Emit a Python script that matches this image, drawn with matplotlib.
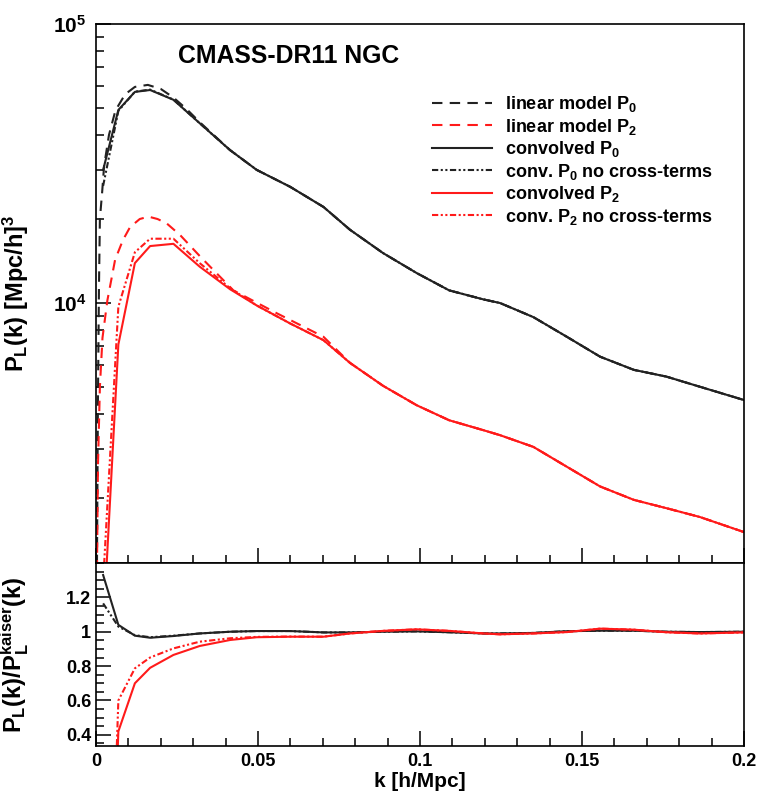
import matplotlib
matplotlib.use("Agg")
import matplotlib.pyplot as plt
from matplotlib.ticker import LogLocator, MultipleLocator, NullFormatter, FixedLocator, FuncFormatter

plt.rcParams['font.family'] = ['Liberation Sans', 'DejaVu Sans']
plt.rcParams['font.weight'] = 'bold'
plt.rcParams['mathtext.fontset'] = 'custom'
plt.rcParams['mathtext.rm'] = 'Liberation Sans:bold'
plt.rcParams['mathtext.it'] = 'Liberation Sans:bold'
plt.rcParams['mathtext.bf'] = 'Liberation Sans:bold'
plt.rcParams['mathtext.sf'] = 'Liberation Sans:bold'
plt.rcParams['mathtext.default'] = 'rm'

# ---------------- data ----------------
# convolved models sampling
k_conv = [0.0022, 0.0069, 0.012, 0.0167, 0.0239, 0.032, 0.0414, 0.0496, 0.0599,
          0.0702, 0.0784, 0.0886, 0.099, 0.109, 0.1196, 0.1247, 0.135, 0.1453,
          0.1556, 0.166, 0.176, 0.1864, 0.2]
P0_conv = [3.0e4, 4.92e4, 5.71e4, 5.8e4, 5.35e4, 4.41e4, 3.53e4, 3.0e4, 2.61e4,
           2.21e4, 1.83e4, 1.51e4, 1.28e4, 1.11e4, 1.03e4, 1.0e4, 8.9e3, 7.57e3,
           6.42e3, 5.76e3, 5.45e3, 5.01e3, 4.49e3]
P0_nocross = [2.63e4, 4.88e4, 5.72e4, 5.82e4, 5.36e4, 4.41e4, 3.53e4, 3.0e4, 2.61e4,
              2.21e4, 1.83e4, 1.51e4, 1.28e4, 1.11e4, 1.03e4, 1.0e4, 8.9e3, 7.57e3,
              6.42e3, 5.76e3, 5.45e3, 5.01e3, 4.49e3]
P2_conv = [670, 7.1e3, 1.39e4, 1.6e4, 1.63e4, 1.35e4, 1.12e4, 9.8e3, 8.45e3,
           7.36e3, 6.1e3, 5.05e3, 4.3e3, 3.8e3, 3.5e3, 3.36e3, 3.05e3, 2.59e3,
           2.2e3, 1.97e3, 1.84e3, 1.71e3, 1.51e3]
P2_nocross = [1.0e3, 9.7e3, 1.52e4, 1.7e4, 1.7e4, 1.39e4, 1.13e4, 9.8e3, 8.45e3,
              7.36e3, 6.1e3, 5.05e3, 4.3e3, 3.8e3, 3.5e3, 3.36e3, 3.05e3, 2.59e3,
              2.2e3, 1.97e3, 1.84e3, 1.71e3, 1.51e3]

# linear (Kaiser) models
k_lin0 = [0.0003, 0.0006, 0.0009, 0.0012, 0.0019, 0.0025, 0.004, 0.006, 0.009,
          0.012, 0.016, 0.02, 0.0239, 0.028, 0.032, 0.0414, 0.0496, 0.0599,
          0.0702, 0.0784, 0.0886, 0.099, 0.109, 0.1196, 0.1247, 0.135, 0.1453,
          0.1556, 0.166, 0.176, 0.1864, 0.2]
P0_lin = [1.15e3, 4.5e3, 1.1e4, 2.0e4, 2.5e4, 3.1e4, 4.0e4, 4.9e4, 5.6e4,
          5.95e4, 6.05e4, 5.85e4, 5.45e4, 4.95e4, 4.45e4, 3.53e4, 3.0e4, 2.61e4,
          2.21e4, 1.83e4, 1.51e4, 1.28e4, 1.11e4, 1.03e4, 1.0e4, 8.9e3, 7.57e3,
          6.42e3, 5.76e3, 5.45e3, 5.01e3, 4.49e3]
k_lin2 = [0.0003, 0.0006, 0.0012, 0.002, 0.0035, 0.0059, 0.0083, 0.0105, 0.0135,
          0.0162, 0.019, 0.0218, 0.026, 0.0321, 0.0424, 0.0558, 0.0702, 0.0784,
          0.0886, 0.099, 0.109, 0.1196, 0.1247, 0.135, 0.1453, 0.1556, 0.166,
          0.176, 0.1864, 0.2]
P2_lin = [1.1e3, 2.6e3, 5.0e3, 7.5e3, 1.02e4, 1.43e4, 1.68e4, 1.87e4, 2.0e4,
          2.04e4, 2.0e4, 1.93e4, 1.75e4, 1.47e4, 1.11e4, 9.19e3, 7.57e3, 6.1e3,
          5.05e3, 4.3e3, 3.8e3, 3.5e3, 3.36e3, 3.05e3, 2.59e3, 2.2e3, 1.97e3,
          1.84e3, 1.71e3, 1.51e3]

# ratios to the Kaiser model
R0_conv = [1.33, 1.04, 0.977, 0.965, 0.975, 0.99, 1.0, 1.004, 1.004, 0.996, 0.996,
           1.0, 1.002, 0.997, 0.99, 0.99, 0.993, 1.003, 1.006, 1.006, 1.0, 0.998, 1.0]
R0_nocross = [1.165, 1.03, 0.98, 0.968, 0.977, 0.99, 1.0, 1.004, 1.004, 0.996, 0.996,
              1.0, 1.002, 0.997, 0.99, 0.99, 0.993, 1.003, 1.006, 1.006, 1.0, 0.998, 1.0]
R2_conv = [-2.0, 0.42, 0.70, 0.79, 0.865, 0.917, 0.952, 0.968, 0.971, 0.971, 0.99,
           1.005, 1.014, 1.005, 0.99, 0.985, 0.99, 0.998, 1.018, 1.012, 0.997, 0.99, 0.996]
R2_nocross = [-2.0, 0.6, 0.787, 0.85, 0.903, 0.942, 0.962, 0.97, 0.972, 0.971, 0.99,
              1.005, 1.014, 1.005, 0.99, 0.985, 0.99, 0.998, 1.018, 1.012, 0.997, 0.99, 0.996]

labels = [r'linear model $P_0$', r'linear model $P_2$', r'convolved $P_0$',
          r'conv. $P_0$ no cross-terms', r'convolved $P_2$', r'conv. $P_2$ no cross-terms']
title = 'CMASS-DR11 NGC'

# ---------------- styles ----------------
BLACK = '#222222'
RED = '#ff1a1a'
dashed = (0, (5, 3.5))
dotted = (0, (3, 1.2, 1, 1.2, 1, 1.2))
LW = 1.5

fig = plt.figure(figsize=(7.63, 7.98), dpi=100)
W, H = 763, 798
x0, x1 = 96, 744
ax = fig.add_axes([x0 / W, 1 - 563 / H, (x1 - x0) / W, (563 - 24) / H])
axr = fig.add_axes([x0 / W, 1 - 746 / H, (x1 - x0) / W, (746 - 563) / H], sharex=ax)

h1, = ax.plot(k_lin0, P0_lin, color=BLACK, lw=LW, ls=dashed)
h2, = ax.plot(k_lin2, P2_lin, color=RED, lw=LW, ls=dashed)
h3, = ax.plot(k_conv, P0_conv, color=BLACK, lw=LW)
h4, = ax.plot(k_conv, P0_nocross, color=BLACK, lw=LW, ls=dotted)
h5, = ax.plot(k_conv, P2_conv, color=RED, lw=LW)
h6, = ax.plot(k_conv, P2_nocross, color=RED, lw=LW, ls=dotted)

axr.plot(k_conv, R0_conv, color=BLACK, lw=LW)
axr.plot(k_conv, R0_nocross, color=BLACK, lw=LW, ls=dotted)
axr.plot(k_conv, R2_conv, color=RED, lw=LW)
axr.plot(k_conv, R2_nocross, color=RED, lw=LW, ls=dotted)

ax.set_yscale('log')
ax.set_xlim(0, 0.2)
ax.set_ylim(1170, 1e5)
axr.set_ylim(0.335, 1.40)

for a in (ax, axr):
    for s in a.spines.values():
        s.set_linewidth(1.2)
    a.tick_params(which='both', direction='in', top=False, right=False, width=1.1,
                  labelsize=13)
    a.tick_params(which='major', length=11)
    a.tick_params(which='minor', length=6)

ax.yaxis.set_major_locator(LogLocator(base=10, numticks=10))
ax.yaxis.set_minor_locator(LogLocator(base=10, subs=range(2, 10), numticks=20))
ax.yaxis.set_minor_formatter(NullFormatter())
ax.tick_params(axis='y', which='major', pad=7, labelsize=15)
ax.tick_params(axis='x', labelbottom=False)
axr.xaxis.set_major_locator(FixedLocator([0.0, 0.05, 0.1, 0.15, 0.2]))
axr.xaxis.set_minor_locator(MultipleLocator(0.01))
axr.yaxis.set_major_locator(FixedLocator([0.4, 0.6, 0.8, 1.0, 1.2]))
axr.yaxis.set_minor_locator(MultipleLocator(0.05))
fmt = FuncFormatter(lambda v, p: f'{v:g}')
axr.xaxis.set_major_formatter(fmt)
axr.yaxis.set_major_formatter(fmt)
axr.tick_params(axis='x', which='major', pad=5)

ax.set_ylabel(r'$P_L(k)\ [Mpc/h]^3$', fontsize=17)
axr.set_ylabel(r'$P_L(k)/P_L^{kaiser}(k)$', fontsize=17)
ax.yaxis.set_label_coords(-0.1, 0.5)
axr.yaxis.set_label_coords(-0.1, 0.5)
axr.set_xlabel('k [h/Mpc]', fontsize=15, fontweight='bold')
axr.xaxis.set_label_coords(0.5, -0.14)

ax.text(0.126, 0.94, title, transform=ax.transAxes, fontsize=17.8, fontweight='bold',
        va='center', ha='left')

leg = ax.legend([h1, h2, h3, h4, h5, h6], labels, loc='upper left',
                bbox_to_anchor=(432 / W, 1 - 94 / H), bbox_transform=fig.transFigure,
                frameon=False, fontsize=13, handlelength=3.3, handletextpad=0.72,
                labelspacing=0.14, borderpad=0, borderaxespad=0)
for t in leg.get_texts():
    t.set_fontweight('bold')

fig.savefig('out.png', dpi=100)
